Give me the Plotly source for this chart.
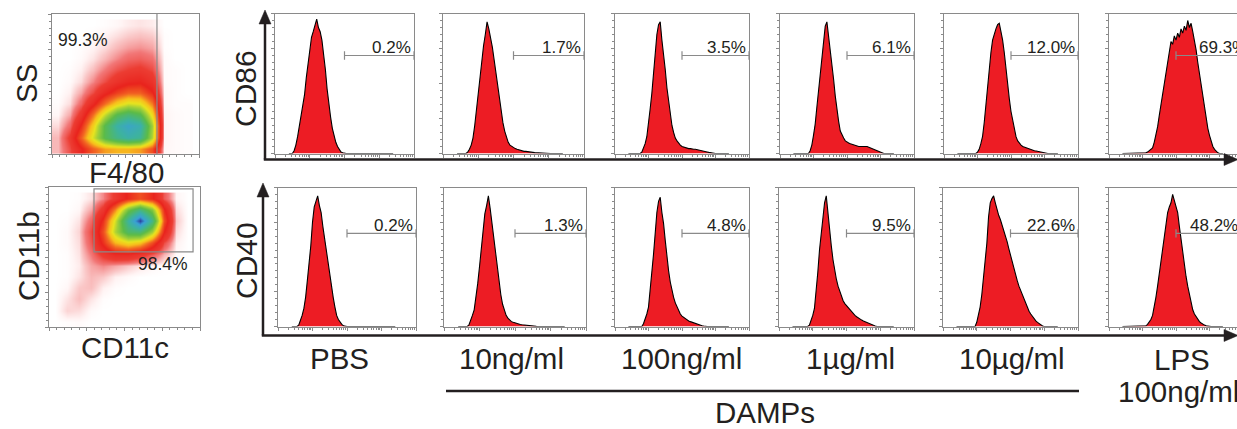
import math
import plotly.graph_objects as go

W, H = 1237, 429

# ---------------- data ----------------
conditions = ["PBS", "10ng/ml", "100ng/ml", "1µg/ml", "10µg/ml", "LPS"]
cd86_pct = ["0.2%", "1.7%", "3.5%", "6.1%", "12.0%", "69.3%"]
cd40_pct = ["0.2%", "1.3%", "4.8%", "9.5%", "22.6%", "48.2%"]
gate_low = 2.0     # gate start (log decades)
gate_high = 4.0
f480_gate_pct = "99.3%"
cd11_gate_pct = "98.4%"

# histogram channel (log10 fluorescence)
channel = [0.40, 0.45, 0.50, 0.55, 0.60, 0.65, 0.70, 0.75, 0.80, 0.85,
           0.90, 0.95, 1.00, 1.05, 1.10, 1.15, 1.20, 1.25, 1.30, 1.35,
           1.40, 1.45, 1.50, 1.55, 1.60, 1.65, 1.70, 1.75, 1.80, 1.85,
           1.90, 1.95, 2.00, 2.05, 2.10, 2.15, 2.20, 2.25, 2.30, 2.35,
           2.40, 2.45, 2.50, 2.55, 2.60, 2.65, 2.70, 2.75, 2.80, 2.85,
           2.90, 2.95, 3.00, 3.05, 3.10, 3.15, 3.20, 3.25, 3.30, 3.35,
           3.40]

# % of max counts
cd86_pbs = [0, 0, 0, 2, 6, 12, 20, 27, 34, 42,
            54, 64, 75, 83, 87, 91, 96, 90, 87, 81,
            71, 60, 46, 34, 26, 18, 12, 8, 5, 3,
            1, 0.5, 0, 0, 0, 0, 0, 0, 0, 0,
            0, 0, 0, 0, 0, 0, 0, 0, 0, 0,
            0, 0, 0, 0, 0, 0, 0, 0, 0, 0,
            0]
cd86_10ng = [0, 0, 0, 0, 0, 0, 1, 3, 6, 11,
             20, 32, 43, 55, 67, 77, 85, 94, 89, 83,
             76, 67, 58, 49, 39, 29, 22, 16, 11, 8,
             6, 5, 4, 3.5, 3, 2.5, 2, 2, 1.5, 1.5,
             1.2, 1, 1, 0.8, 0.6, 0.5, 0.4, 0.3, 0, 0,
             0, 0, 0, 0, 0, 0, 0, 0, 0, 0,
             0]
cd86_100ng = [0, 0, 0, 0, 0, 0, 0, 0, 1, 4,
              7, 12, 21, 32, 43, 58, 73, 85, 92, 94,
              81, 72, 60, 47, 37, 28, 20, 15, 11, 9,
              7, 6, 5, 4.5, 4, 4, 3.5, 3.5, 3, 3,
              3, 2.8, 2.5, 2.2, 2, 1.7, 1.4, 1.1, 0.8, 0.5,
              0.3, 0.1, 0, 0, 0, 0, 0, 0, 0, 0,
              0]
cd86_1ug = [0, 0, 0, 0, 0, 0, 0, 0, 0, 0,
            2, 6, 13, 21, 33, 45, 57, 70, 82, 91,
            94, 84, 76, 66, 53, 41, 31, 23, 16, 13,
            11, 9, 8, 7.5, 7, 6.5, 6, 5.5, 5.5, 5,
            5, 5, 5, 5.5, 5, 4.5, 4, 3, 2.5, 2,
            1.5, 1, 0.6, 0.3, 0, 0, 0, 0, 0, 0,
            0]
cd86_10ug = [0, 0, 0, 0, 0, 0, 0, 0, 0, 0,
             0, 0, 1, 3, 7, 12, 22, 36, 50, 61,
             72, 81, 86, 89, 92, 93, 87, 81, 72, 60,
             49, 39, 30, 23, 17, 12, 9, 7, 6, 5,
             4.5, 4, 3.5, 3, 2.8, 2.5, 2, 1.8, 1.5, 1.2,
             0.9, 0.6, 0.3, 0.1, 0, 0, 0, 0, 0, 0,
             0]
cd86_lps = [0, 0, 0, 0, 0, 0, 0, 0, 0, 0,
            0, 0, 0, 0, 0.5, 1, 2, 3, 4, 8,
            13, 19, 27, 35, 43, 51, 59, 66, 73, 80,
            78, 84, 81, 86, 83, 89, 86, 91, 88, 95,
            90, 93, 87, 81, 74, 65, 57, 48, 40, 32,
            25, 18, 13, 9, 5, 3, 1.5, 0.5, 0, 0,
            0]
cd40_pbs = [0, 0, 0, 0, 1, 4, 8, 13, 21, 33,
            45, 58, 75, 86, 90, 94, 87, 82, 72, 63,
            55, 46, 37, 29, 21, 14, 8, 5, 3, 1.5,
            0.5, 0, 0, 0, 0, 0, 0, 0, 0, 0,
            0, 0, 0, 0, 0, 0, 0, 0, 0, 0,
            0, 0, 0, 0, 0, 0, 0, 0, 0, 0,
            0]
cd40_10ng = [0, 0, 0, 0, 0, 0, 1, 4, 8, 12,
             20, 31, 43, 56, 70, 81, 87, 94, 85, 74,
             63, 52, 41, 31, 23, 16, 11, 8, 6, 4.5,
             3.5, 3, 2.5, 2, 1.8, 1.5, 1.2, 1, 0.8, 0.7,
             0.5, 0.4, 0.3, 0.2, 0.1, 0, 0, 0, 0, 0,
             0, 0, 0, 0, 0, 0, 0, 0, 0, 0,
             0]
cd40_100ng = [0, 0, 0, 0, 0, 0, 0, 0, 0, 2,
              5, 9, 14, 25, 38, 52, 67, 82, 90, 93,
              82, 74, 62, 50, 40, 32, 26, 21, 17, 14,
              11, 9, 7.5, 6.5, 5.5, 4.8, 4, 3.5, 3, 2.5,
              2.2, 1.8, 1.4, 1, 0.6, 0.3, 0, 0, 0, 0,
              0, 0, 0, 0, 0, 0, 0, 0, 0, 0,
              0]
cd40_1ug = [0, 0, 0, 0, 0, 0, 0, 0, 0, 0,
            1, 4, 8, 13, 24, 39, 55, 68, 80, 89,
            94, 80, 69, 58, 48, 40, 34, 29, 25, 21,
            18.5, 16.5, 15, 13.5, 12, 10.5, 9, 8, 7, 6,
            5.3, 4.6, 4, 3.4, 2.8, 2.2, 1.6, 1.1, 0.6, 0.3,
            0, 0, 0, 0, 0, 0, 0, 0, 0, 0,
            0]
cd40_10ug = [0, 0, 0, 0, 0, 0, 0, 0, 0, 0,
             0, 0, 3, 8, 14, 23, 35, 47, 60, 79,
             89, 92, 94, 89, 84, 80, 77, 73, 69, 66,
             61, 56, 51, 47, 43, 38, 33, 29, 26, 22,
             19, 16, 13, 11, 9, 7, 5.5, 4, 3, 2,
             1, 0.4, 0, 0, 0, 0, 0, 0, 0, 0,
             0]
cd40_lps = [0, 0, 0, 0, 0, 0, 0, 0, 0, 0,
            0, 0, 0, 0, 0.5, 1.5, 3, 5, 8, 14,
            21, 29, 38, 48, 58, 67, 76, 82, 86, 89,
            95, 91, 87, 82, 72, 62, 53, 44, 36, 29,
            23, 17, 12, 9, 7, 5, 3.5, 2.5, 1.5, 1,
            0.5, 0.2, 0, 0, 0, 0, 0, 0, 0, 0,
            0]

# density-plot grids (relative event density, 0-100)
dens_x = [0.04, 0.12, 0.20, 0.28, 0.36, 0.44, 0.52, 0.60, 0.68, 0.76, 0.84, 0.92]
dens_y = [0.04, 0.12, 0.20, 0.28, 0.36, 0.44, 0.52, 0.60, 0.68, 0.76, 0.84, 0.92]
ss_f480 = [
    [2, 7, 15, 24, 30, 32, 32, 30, 22, 0.3, 0.2, 0.1],
    [2, 9, 24, 42, 60, 70, 76, 72, 46, 0.4, 0.2, 0.1],
    [1, 5, 17, 36, 60, 76, 84, 78, 48, 0.4, 0.2, 0.1],
    [0.3, 2.5, 10, 26, 44, 60, 66, 60, 38, 0.4, 0.2, 0.1],
    [0.1, 1, 5, 14, 26, 36, 42, 40, 27, 0.3, 0.1, 0.1],
    [0, 0.5, 2.5, 7, 14, 20, 24, 24, 17, 0.3, 0.1, 0],
    [0, 0.2, 1, 3.5, 7, 11, 14, 15, 11, 0.2, 0.1, 0],
    [0, 0.1, 0.5, 1.8, 4, 6.5, 8, 9, 7, 0.2, 0.1, 0],
    [0, 0, 0.2, 0.8, 2, 3.5, 5, 5.5, 4.5, 0.2, 0, 0],
    [0, 0, 0.1, 0.4, 1, 2, 2.8, 3.2, 2.6, 0.1, 0, 0],
    [0, 0, 0, 0.2, 0.5, 1, 1.5, 1.8, 1.5, 0.1, 0, 0],
    [0, 0, 0, 0, 0.1, 0.3, 0.6, 0.8, 0.6, 0, 0, 0],
]
cd11b_cd11c = [
    [0, 0.1, 0.2, 0, 0, 0, 0, 0, 0, 0, 0, 0],
    [0, 1.2, 1, 0.2, 0, 0, 0, 0, 0, 0, 0, 0],
    [0, 0.8, 1.8, 0.8, 0.1, 0, 0, 0, 0, 0, 0, 0],
    [0, 0.3, 1.5, 1.8, 0.5, 0.1, 0, 0, 0, 0, 0, 0],
    [0, 0.1, 0.8, 2, 1.5, 0.5, 0.2, 0, 0, 0, 0, 0],
    [0, 0.1, 0.6, 2.5, 3.5, 2.5, 1.5, 0.8, 0.3, 0.1, 0, 0],
    [0, 0.1, 0.8, 4, 9, 13, 13, 10, 6, 2, 0.2, 0],
    [0, 0.2, 1, 6, 18, 32, 38, 34, 22, 7, 0.5, 0],
    [0, 0.2, 1.2, 7, 22, 46, 64, 66, 48, 16, 1, 0],
    [0, 0.1, 0.8, 5, 18, 42, 74, 100, 70, 22, 1.5, 0],
    [0, 0, 0.3, 2.5, 10, 28, 54, 68, 52, 17, 1, 0],
    [0, 0, 0.1, 0.8, 3.5, 9, 17, 22, 17, 6, 0.4, 0],
]

cd86_series = [cd86_pbs, cd86_10ng, cd86_100ng, cd86_1ug, cd86_10ug, cd86_lps]
cd40_series = [cd40_pbs, cd40_10ng, cd40_100ng, cd40_1ug, cd40_10ug, cd40_lps]

# ---------------- layout helpers ----------------
def fx(p):
    return p / W

def fy(p):
    return 1 - p / H

FONT = "Liberation Sans, Arial, Helvetica, sans-serif"
INK = "#231f20"
GRAY = "#8a8a8a"
RED = "#ed1c24"

top_boxes = [(275, 414), (443, 584), (615, 749), (780, 914), (944, 1078), (1109, 1243)]
bot_boxes = [(278, 416), (444, 586), (615, 749), (779, 914), (943, 1078), (1109, 1243)]
top_y = (13.5, 153.5)
bot_y = (187.5, 326.5)
lps_label_x = [2.69, 2.42]   # left edge of the clipped LPS % labels (axis units)

minor_x = [k + math.log10(m) for k in range(4) for m in range(2, 10)]

fig = go.Figure()
layout = dict(width=W, height=H, autosize=False, margin=dict(l=0, r=0, t=0, b=0),
              paper_bgcolor="white", plot_bgcolor="white", showlegend=False,
              font=dict(family=FONT, color=INK))
shapes = []
annotations = []

def box_axis(n, xdom, ydom, xrange, yrange, mirror_y=True, xt=None, yt=None, xminor=None, yminor=None):
    common = dict(showline=True, linecolor=GRAY, linewidth=1, showgrid=False, zeroline=False,
                  showticklabels=False, ticks="outside", ticklen=3, tickcolor=GRAY, tickwidth=1,
                  fixedrange=True)
    xa = dict(common, domain=xdom, range=xrange, mirror=True, anchor="y%d" % n, tickvals=xt)
    ya = dict(common, domain=ydom, range=yrange, mirror=mirror_y, anchor="x%d" % n, tickvals=yt)
    if xminor is not None:
        xa["minor"] = dict(tickvals=xminor, ticks="outside", ticklen=2, tickcolor=GRAY)
    if yminor is not None:
        ya["minor"] = dict(tickvals=yminor, ticks="outside", ticklen=2, tickcolor=GRAY)
    layout["xaxis" if n == 1 else "xaxis%d" % n] = xa
    layout["yaxis" if n == 1 else "yaxis%d" % n] = ya

n = 0
for row, (boxes, ypix, series, pcts, gate_y) in enumerate(
        [(top_boxes, top_y, cd86_series, cd86_pct, 70), (bot_boxes, bot_y, cd40_series, cd40_pct, 67)]):
    for i, ((l, r), vals, pct) in enumerate(zip(boxes, series, pcts)):
        n += 1
        rv = min(r, W)
        xmax = 4.0 * (rv - l) / (r - l)
        box_axis(n, [fx(l), fx(rv)], [fy(ypix[1]), fy(ypix[0])], [0, xmax], [0, 100],
                 mirror_y=(r <= W), xt=[0, 1, 2, 3, 4], yt=[0, 25, 50, 75, 100],
                 xminor=minor_x, yminor=[5, 10, 15, 20, 30, 35, 40, 45, 55, 60, 65, 70, 80, 85, 90, 95])
        xr, yr = ("x" if n == 1 else "x%d" % n), ("y" if n == 1 else "y%d" % n)
        fig.add_trace(go.Scatter(x=channel, y=vals, mode="lines", fill="tozeroy",
                                 fillcolor=RED, line=dict(color="black", width=1.1),
                                 xaxis=xr, yaxis=yr, hoverinfo="skip"))
        # gate marker
        shapes.append(dict(type="line", xref=xr, yref=yr, x0=gate_low, x1=gate_high, y0=gate_y, y1=gate_y,
                           line=dict(color=GRAY, width=1.2)))
        for gx in (gate_low, gate_high):
            shapes.append(dict(type="line", xref=xr, yref=yr, x0=gx, x1=gx, y0=gate_y - 3, y1=gate_y + 3,
                               line=dict(color=GRAY, width=1.2)))
        if r <= W:
            annotations.append(dict(x=gate_high, y=gate_y, xref=xr, yref=yr, text=pct, showarrow=False,
                                    xanchor="right", yanchor="bottom", xshift=-1, yshift=-4,
                                    font=dict(size=17, color=INK)))
        else:
            annotations.append(dict(x=lps_label_x[row], y=gate_y, xref=xr, yref=yr, text=pct, showarrow=False,
                                    xanchor="left", yanchor="bottom", xshift=-2, yshift=-4,
                                    font=dict(size=17, color=INK)))

# density plots
dens_scale = [[0.0, "#ffffff"], [0.004, "#fff4f4"], [0.015, "#fac8c8"], [0.04, "#f27878"],
              [0.08, "#ec3d33"], [0.16, "#e9231d"], [0.25, "#f26522"], [0.33, "#f8c01c"],
              [0.40, "#e8e41f"], [0.48, "#9fcf3a"], [0.58, "#5cbb47"], [0.74, "#3db39e"],
              [0.88, "#3aa0d6"], [1.0, "#2b3d9e"]]
for (l, r, t, b), z in [((52, 199, 14, 154), ss_f480), ((49, 200, 187, 327), cd11b_cd11c)]:
    n += 1
    box_axis(n, [fx(l), fx(r)], [fy(b), fy(t)], [0, 1], [0, 1],
             xt=[0, 0.25, 0.5, 0.75, 1.0], yt=[0, 0.25, 0.5, 0.75, 1.0],
             xminor=[0.05, 0.1, 0.15, 0.2, 0.3, 0.35, 0.4, 0.45, 0.55, 0.6, 0.65, 0.7, 0.8, 0.85, 0.9, 0.95],
             yminor=[0.05, 0.1, 0.15, 0.2, 0.3, 0.35, 0.4, 0.45, 0.55, 0.6, 0.65, 0.7, 0.8, 0.85, 0.9, 0.95])
    fig.add_trace(go.Heatmap(x=dens_x, y=dens_y, z=z, zmin=0, zmax=100, zsmooth="best",
                             colorscale=dens_scale, showscale=False, hoverinfo="skip",
                             xaxis="x%d" % n, yaxis="y%d" % n))

# gates on density plots
shapes.append(dict(type="line", xref="x13", yref="y13", x0=0.714, x1=0.714, y0=0, y1=1,
                   line=dict(color=GRAY, width=1.2)))
shapes.append(dict(type="rect", xref="x14", yref="y14", x0=0.298, x1=0.954, y0=0.536, y1=0.986,
                   line=dict(color=GRAY, width=1.2)))

# axis arrows
def seg(x0, y0, x1, y1, w=2.5):
    shapes.append(dict(type="line", xref="paper", yref="paper", x0=fx(x0), y0=fy(y0), x1=fx(x1), y1=fy(y1),
                       line=dict(color=INK, width=w)))

def tri(p):
    path = "M %f,%f L %f,%f L %f,%f Z" % (fx(p[0][0]), fy(p[0][1]), fx(p[1][0]), fy(p[1][1]),
                                          fx(p[2][0]), fy(p[2][1]))
    shapes.append(dict(type="path", xref="paper", yref="paper", path=path,
                       fillcolor=INK, line=dict(color=INK, width=0.5)))

for ax_x, ax_y, tip_y in [(265, 159.5, 10), (263, 335.5, 183)]:
    seg(ax_x, ax_y, ax_x, tip_y + 10)
    tri([(ax_x, tip_y), (ax_x - 6, tip_y + 14), (ax_x + 6, tip_y + 14)])
    seg(ax_x - 1.2, ax_y, 1226, ax_y)
    tri([(1238, ax_y), (1224, ax_y - 6), (1224, ax_y + 6)])

# DAMPs bracket line
seg(446, 391, 1079, 391)

def label(text, x, y, size=29.5, angle=0):
    annotations.append(dict(text=text, x=fx(x), y=fy(y), xref="paper", yref="paper", showarrow=False,
                            xanchor="center", yanchor="middle", textangle=angle,
                            font=dict(size=size, color=INK, family=FONT)))

label("CD86", 246, 89, size=30, angle=-90)
label("CD40", 246, 261, size=30, angle=-90)
label("SS", 26, 84, angle=-90)
label("CD11b", 28, 256, angle=-90)
label("F4/80", 126, 172)
label("CD11c", 125, 347)
label(f480_gate_pct, 83, 40, size=17.5)
label(cd11_gate_pct, 163, 264, size=17.5)

cond_x = [340, 511, 681, 850, 1012]
for c, xc in zip(conditions[:5], cond_x):
    label(c, xc, 358)
label("DAMPs", 765, 412)
label(conditions[5], 1182, 359)
label("100ng/ml", 1178, 391)

layout["shapes"] = shapes
layout["annotations"] = annotations
fig.update_layout(**layout)
fig.write_html("out.html", config={"displayModeBar": False, "staticPlot": True},
               post_script="document.body.style.margin='0';document.body.style.overflow='hidden';")
